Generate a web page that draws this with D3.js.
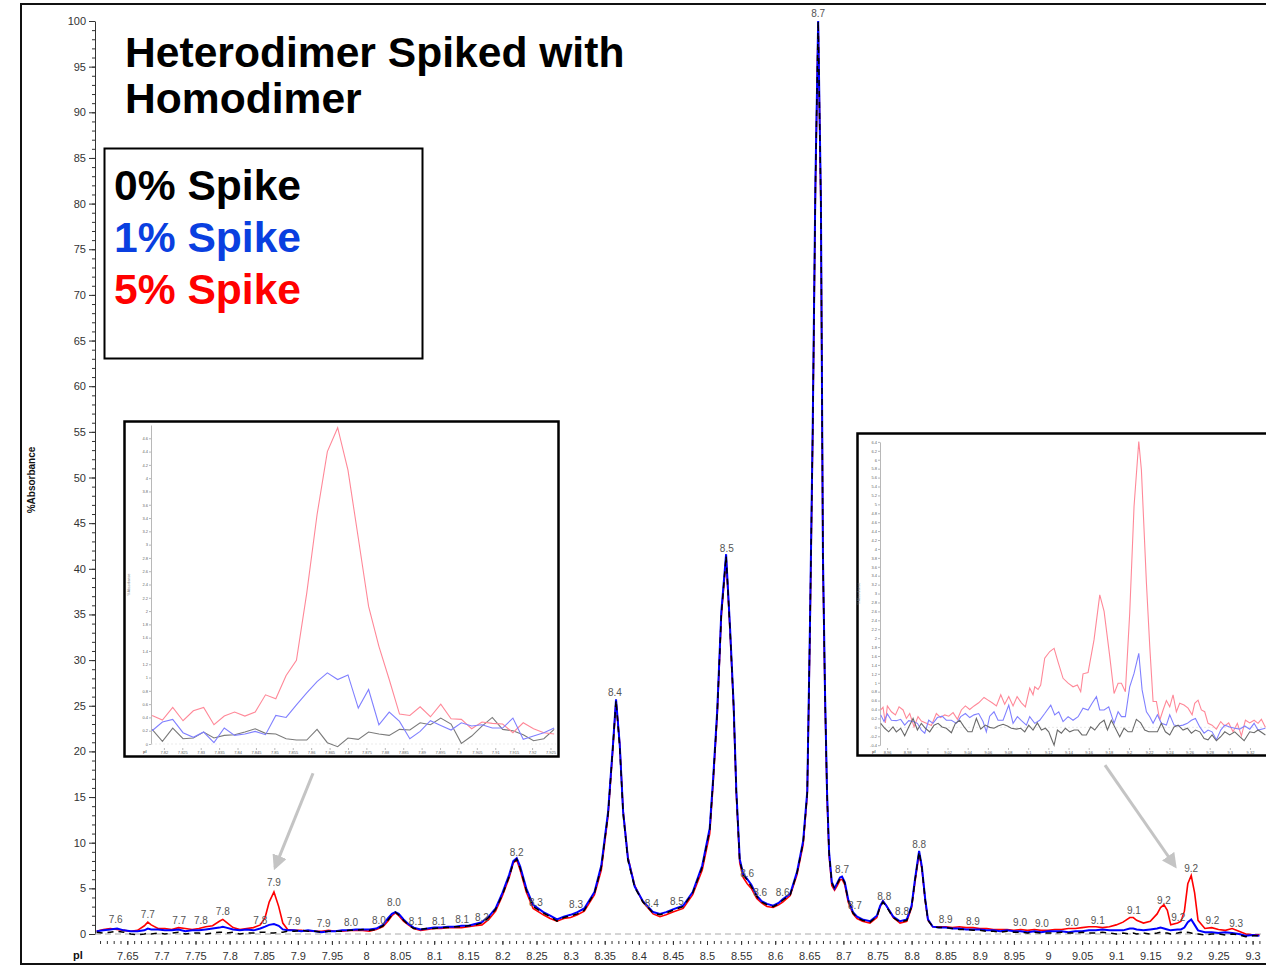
<!DOCTYPE html>
<html>
<head>
<meta charset="utf-8">
<script src="https://cdn.jsdelivr.net/npm/d3@7"></script>
<style>
  body { margin: 0; background: #fff; }
  svg { display: block; font-family: "Liberation Sans", Arial, sans-serif; }
</style>
</head>
<body>
<svg id="chart" width="1266" height="966"></svg>
<script>
// ---- main spectrum (ppm / %Absorbance) ----
const specX = [
  7.605, 7.615, 7.625, 7.635, 7.645, 7.655, 7.665, 7.675, 7.68, 7.685,
  7.695, 7.705, 7.715, 7.725, 7.735, 7.745, 7.755, 7.765, 7.775, 7.785,
  7.79, 7.795, 7.805, 7.815, 7.825, 7.835, 7.845, 7.852, 7.858, 7.865,
  7.872, 7.878, 7.885, 7.895, 7.905, 7.915, 7.925, 7.935, 7.945, 7.955,
  7.965, 7.975, 7.985, 7.995, 8.005, 8.015, 8.025, 8.032, 8.038, 8.043,
  8.048, 8.055, 8.062, 8.07, 8.08, 8.09, 8.10, 8.11, 8.12, 8.13,
  8.14, 8.15, 8.16, 8.17, 8.18, 8.19, 8.2, 8.21, 8.216, 8.221,
  8.226, 8.235, 8.245, 8.26, 8.27, 8.28, 8.29, 8.30, 8.31, 8.32,
  8.335, 8.345, 8.355, 8.362, 8.3666, 8.372, 8.377, 8.384, 8.394, 8.406,
  8.421, 8.431, 8.44, 8.45, 8.465, 8.479, 8.493, 8.504, 8.509, 8.515,
  8.521, 8.528, 8.534, 8.539, 8.543, 8.548, 8.553, 8.559, 8.565, 8.573,
  8.58, 8.588, 8.597, 8.605, 8.611, 8.622, 8.632, 8.641, 8.647, 8.651,
  8.655, 8.659, 8.663, 8.667, 8.670, 8.673, 8.676, 8.679, 8.683, 8.687,
  8.691, 8.695, 8.698, 8.702, 8.707, 8.714, 8.72, 8.728, 8.739, 8.749,
  8.754, 8.758, 8.763, 8.773, 8.783, 8.793, 8.8, 8.805, 8.811, 8.815,
  8.82, 8.824, 8.831, 8.84, 8.85, 8.86, 8.87, 8.88, 8.89, 8.9,
  8.91, 8.92, 8.93, 8.94, 8.95, 8.96, 8.97, 8.98, 8.99, 9.0,
  9.01, 9.02, 9.03, 9.04, 9.05, 9.06, 9.07, 9.08, 9.09, 9.1,
  9.11, 9.12, 9.125, 9.13, 9.14, 9.15, 9.16, 9.165, 9.17, 9.175,
  9.18, 9.19, 9.195, 9.2, 9.205, 9.21, 9.215, 9.22, 9.23, 9.24,
  9.25, 9.26, 9.27, 9.28, 9.29, 9.30, 9.31
]
const spike0 = [
  0.2, 0.1, 0.2, 0.3, 0.2, 0.0, -0.1, 0.0, 0.1, 0.0,
  0.1, 0.0, 0.1, 0.2, 0.0, 0.1, 0.1, 0.0, 0.1, 0.2,
  0.2, 0.1, 0.2, 0.0, 0.1, 0.1, 0.2, 0.2, 0.1, 0.1,
  0.2, 0.2, 0.3, 0.3, 0.4, 0.3, 0.3, 0.2, 0.3, 0.3,
  0.3, 0.4, 0.4, 0.5, 0.4, 0.5, 0.9, 1.5, 2.1, 2.4,
  2.1, 1.5, 1.0, 0.6, 0.5, 0.6, 0.6, 0.7, 0.7, 0.8,
  0.8, 0.9, 1.0, 1.2, 1.8, 2.7, 4.3, 6.3, 7.8, 8.2,
  7.2, 4.8, 3.0, 2.3, 1.9, 1.4, 1.8, 2.0, 2.2, 2.6,
  4.5, 7.3, 13.2, 20.5, 25.6, 20.5, 13.2, 8.1, 5.1, 3.5,
  2.3, 2.1, 2.3, 2.6, 3.0, 4.5, 7.3, 11.4, 16.9, 24.2,
  35.0, 41.4, 33.0, 25.0, 15.5, 8.0, 6.5, 5.9, 5.2, 4.1,
  3.5, 3.2, 3.0, 3.3, 3.7, 4.3, 6.7, 10.0, 15.4, 33.6,
  55.0, 82.0, 100.0, 80.0, 41.0, 26.4, 15.4, 8.9, 5.6, 5.0,
  5.5, 6.1, 6.2, 5.6, 3.7, 2.3, 1.8, 1.5, 1.3, 1.9,
  3.0, 3.5, 3.0, 1.8, 1.3, 1.5, 3.0, 5.9, 9.0, 7.3,
  3.7, 1.5, 0.8, 0.7, 0.7, 0.6, 0.5, 0.5, 0.4, 0.4,
  0.3, 0.3, 0.2, 0.3, 0.2, 0.2, 0.1, 0.2, 0.1, 0.1,
  0.1, 0.2, 0.1, 0.1, 0.2, 0.1, 0.1, 0.2, 0.1, 0.0,
  0.1, 0.0, 0.1, 0.0, 0.1, 0.0, 0.1, 0.2, 0.1, 0.1,
  0.0, 0.1, 0.2, 0.1, 0.2, 0.1, 0.0, 0.0, -0.1, 0.0,
  0.0, -0.1, 0.0, -0.1, -0.3, -0.2, -0.2
]
const spike1 = [
  0.3, 0.4, 0.5, 0.6, 0.4, 0.3, 0.3, 0.4, 0.6, 0.5,
  0.5, 0.4, 0.4, 0.5, 0.3, 0.4, 0.4, 0.5, 0.6, 0.7,
  0.8, 0.7, 0.5, 0.4, 0.5, 0.4, 0.6, 0.8, 1.0, 1.1,
  0.9, 0.5, 0.4, 0.4, 0.3, 0.4, 0.3, 0.2, 0.3, 0.3,
  0.4, 0.4, 0.5, 0.5, 0.5, 0.6, 1.0, 1.7, 2.2, 2.4,
  2.2, 1.6, 1.1, 0.7, 0.5, 0.6, 0.7, 0.7, 0.8, 0.8,
  0.9, 0.9, 1.1, 1.3, 1.9, 2.8, 4.5, 6.5, 8.0, 8.3,
  7.4, 5.0, 3.2, 2.4, 2.0, 1.6, 1.9, 2.1, 2.4, 2.8,
  4.6, 7.5, 13.4, 20.6, 25.7, 20.8, 13.4, 8.3, 5.2, 3.6,
  2.4, 2.2, 2.4, 2.7, 3.1, 4.6, 7.5, 11.6, 17.0, 24.5,
  35.3, 41.6, 33.2, 25.2, 15.7, 8.2, 6.6, 6.0, 5.4, 4.2,
  3.6, 3.3, 3.1, 3.4, 3.8, 4.4, 6.8, 10.2, 15.6, 34.0,
  55.5, 82.5, 100.0, 80.5, 41.5, 26.6, 15.6, 9.0, 5.7, 5.0,
  5.6, 6.2, 6.3, 5.7, 3.8, 2.4, 1.9, 1.6, 1.4, 2.0,
  3.1, 3.6, 3.1, 1.9, 1.4, 1.6, 3.1, 6.0, 9.1, 7.4,
  3.8, 1.6, 0.8, 0.7, 0.7, 0.6, 0.6, 0.5, 0.5, 0.5,
  0.4, 0.4, 0.3, 0.4, 0.3, 0.3, 0.2, 0.3, 0.2, 0.3,
  0.3, 0.3, 0.2, 0.3, 0.3, 0.4, 0.4, 0.5, 0.4, 0.4,
  0.4, 0.6, 0.6, 0.5, 0.4, 0.5, 0.6, 0.7, 0.6, 0.5,
  0.4, 0.5, 0.5, 0.7, 1.3, 1.6, 1.0, 0.4, 0.2, 0.2,
  0.1, 0.2, 0.1, 0.0, -0.2, -0.1, -0.2
]
const spike5 = [
  0.3, 0.5, 0.6, 0.5, 0.4, 0.3, 0.4, 0.9, 1.3, 1.0,
  0.6, 0.6, 0.5, 0.7, 0.6, 0.5, 0.6, 0.8, 0.9, 1.4,
  1.6, 1.3, 0.7, 0.5, 0.6, 0.7, 1.0, 1.8, 3.5, 4.6,
  3.0, 1.2, 0.5, 0.4, 0.4, 0.3, 0.3, 0.3, 0.4, 0.3,
  0.3, 0.4, 0.4, 0.4, 0.3, 0.5, 0.8, 1.4, 2.0, 2.3,
  2.0, 1.4, 1.0, 0.6, 0.4, 0.5, 0.6, 0.6, 0.7, 0.7,
  0.7, 0.8, 0.9, 1.0, 1.6, 2.5, 4.2, 6.2, 7.8, 8.1,
  7.0, 4.6, 2.8, 2.1, 1.7, 1.4, 1.7, 1.8, 2.1, 2.5,
  4.3, 7.0, 13.0, 20.3, 25.5, 20.8, 13.5, 8.4, 5.3, 3.5,
  2.2, 1.9, 2.1, 2.4, 2.8, 4.3, 7.0, 11.0, 16.5, 24.0,
  34.8, 41.2, 32.8, 24.8, 15.3, 7.8, 6.2, 5.5, 5.0, 3.9,
  3.4, 3.0, 2.9, 3.2, 3.5, 4.2, 6.5, 9.8, 15.2, 33.0,
  54.5, 81.5, 99.8, 79.5, 40.5, 26.0, 15.0, 8.6, 5.3, 4.8,
  5.3, 5.9, 6.0, 5.4, 3.5, 2.2, 1.7, 1.4, 1.2, 1.8,
  3.0, 3.6, 3.1, 1.8, 1.2, 1.4, 2.9, 5.7, 8.8, 7.2,
  3.6, 1.5, 0.8, 0.8, 0.8, 0.7, 0.8, 0.7, 0.7, 0.6,
  0.6, 0.5, 0.5, 0.5, 0.4, 0.5, 0.4, 0.5, 0.4, 0.4,
  0.5, 0.5, 0.6, 0.6, 0.7, 0.8, 0.8, 0.7, 0.8, 1.0,
  1.3, 1.8, 1.8, 1.5, 1.2, 1.4, 2.2, 2.9, 3.2, 2.6,
  1.0, 1.2, 1.4, 2.5, 5.5, 6.4, 4.5, 1.5, 0.6, 0.7,
  0.5, 0.4, 0.6, 0.3, 0.0, -0.1, -0.1
]

// peak annotations: ppm, label centre height, text
const peakX = [7.633, 7.680, 7.726, 7.758, 7.790, 7.845, 7.865, 7.894, 7.938, 7.978, 8.019, 8.041, 8.073, 8.107, 8.141,
  8.170, 8.221, 8.249, 8.308, 8.365, 8.419, 8.456, 8.529, 8.559, 8.578, 8.611, 8.663, 8.698, 8.717, 8.760, 8.786,
  8.811, 8.850, 8.890, 8.959, 8.991, 9.035, 9.073, 9.126, 9.170, 9.191, 9.210, 9.241, 9.276]
const peakY = [1.64, 2.19, 1.53, 1.53, 2.41, 1.53, 5.59, 1.42, 1.2, 1.31, 1.53, 3.5, 1.42, 1.42, 1.64,
  1.86, 8.98, 3.5, 3.18, 26.5, 3.29, 3.61, 42.17, 6.68, 4.6, 4.6, 100.77, 7.01, 3.07, 4.16, 2.41,
  9.75, 1.64, 1.42, 1.31, 1.1, 1.31, 1.53, 2.52, 3.72, 1.86, 7.12, 1.53, 1.2]
const peakText = ['7.6', '7.7', '7.7', '7.8', '7.8', '7.8', '7.9', '7.9', '7.9', '8.0', '8.0', '8.0', '8.1', '8.1', '8.1',
  '8.2', '8.2', '8.3', '8.3', '8.4', '8.4', '8.5', '8.5', '8.6', '8.6', '8.6', '8.7', '8.7', '8.7', '8.8', '8.8',
  '8.8', '8.9', '8.9', '9.0', '9.0', '9.0', '9.1', '9.1', '9.2', '9.2', '9.2', '9.2', '9.3']

const xTickLabels = ['7.65', '7.7', '7.75', '7.8', '7.85', '7.9', '7.95', '8', '8.05', '8.1', '8.15', '8.2', '8.25',
  '8.3', '8.35', '8.4', '8.45', '8.5', '8.55', '8.6', '8.65', '8.7', '8.75', '8.8', '8.85', '8.9', '8.95', '9',
  '9.05', '9.1', '9.15', '9.2', '9.25', '9.3']
const yTickLabels = ['0', '5', '10', '15', '20', '25', '30', '35', '40', '45', '50', '55', '60', '65', '70', '75',
  '80', '85', '90', '95', '100']

// arrows from insets to peaks: [ppm0, abs0, ppm1, abs1]
const arrows = [[7.9223, 17.6, 7.8666, 7.3], [9.0836, 18.5, 9.1862, 7.45]]

// ---- left inset (around 7.87 ppm) ----
const insetLX = [7.8168, 7.8196, 7.8224, 7.8252, 7.8280, 7.8308, 7.8336, 7.8364, 7.8392, 7.8420,
  7.8448, 7.8476, 7.8504, 7.8532, 7.8560, 7.8588, 7.8616, 7.8644, 7.8672, 7.8700,
  7.8728, 7.8756, 7.8784, 7.8812, 7.8840, 7.8868, 7.8896, 7.8924, 7.8952, 7.8980,
  7.9008, 7.9036, 7.9064, 7.9092, 7.9120, 7.9148, 7.9176, 7.9204, 7.9232, 7.9260]
const insetL5 = [0.43, 0.36, 0.55, 0.35, 0.50, 0.55, 0.29, 0.42, 0.48, 0.42, 0.48, 0.74, 0.68, 1.03, 1.26,
  2.27, 3.45, 4.40, 4.76, 4.12, 3.10, 2.07, 1.47, 0.97, 0.45, 0.43, 0.56, 0.41, 0.60, 0.38,
  0.37, 0.23, 0.33, 0.31, 0.30, 0.17, 0.32, 0.23, 0.17, 0.15]
const insetL1 = [0.20, 0.33, 0.37, 0.17, 0.10, 0.18, 0.02, 0.24, 0.13, 0.15, 0.19, 0.14, 0.43, 0.40, 0.59,
  0.77, 0.94, 1.07, 0.97, 1.04, 0.54, 0.82, 0.29, 0.48, 0.34, 0.08, 0.19, 0.35, 0.28, 0.21,
  0.32, 0.27, 0.29, 0.24, 0.24, 0.39, 0.07, 0.12, 0.17, 0.24]
const insetL0 = [0.22, 0.04, 0.24, 0.08, 0.09, 0.18, 0.09, 0.13, 0.14, 0.18, 0.23, 0.16, 0.15, 0.08, 0.06,
  0.06, 0.22, 0.02, -0.04, 0.09, 0.07, 0.18, 0.15, 0.13, 0.22, 0.21, 0.32, 0.29, 0.39, 0.30,
  0.01, 0.12, 0.27, 0.40, 0.22, 0.20, 0.14, 0.05, 0.08, 0.22]
const insetLXTicks = ['7.82', '7.825', '7.83', '7.835', '7.84', '7.845', '7.85', '7.855', '7.86', '7.865', '7.87',
  '7.875', '7.88', '7.885', '7.89', '7.895', '7.9', '7.905', '7.91', '7.915', '7.92', '7.925']
const insetLYTicks = ['0', '0.2', '0.4', '0.6', '0.8', '1', '1.2', '1.4', '1.6', '1.8', '2', '2.2', '2.4', '2.6',
  '2.8', '3', '3.2', '3.4', '3.6', '3.8', '4', '4.2', '4.4', '4.6']

// ---- right inset (9.0 - 9.33 ppm), [ppm, abs] ----
const insetR5 = [[8.9537, 0.39], [8.9560, 0.45], [8.9583, 0.10], [8.9603, 0.48], [8.9643, 0.35], [8.9683, 0.28],
  [8.9719, 0.46], [8.9759, 0.39], [8.9792, 0.20], [8.9825, 0.31], [8.9868, 0.01], [8.9907, 0.24], [8.9940, 0.14],
  [8.9990, 0.09], [9.0040, 0.04], [9.0089, 0.31], [9.0132, 0.22], [9.0172, 0.28], [9.0212, 0.25], [9.0255, 0.33],
  [9.0298, 0.18], [9.0337, 0.39], [9.0377, 0.48], [9.0420, 0.40], [9.0463, 0.48], [9.0509, 0.55], [9.0562, 0.67],
  [9.0602, 0.61], [9.0642, 0.55], [9.0685, 0.48], [9.0728, 0.73], [9.0767, 0.52], [9.0807, 0.69], [9.0850, 0.48],
  [9.0890, 0.69], [9.0933, 0.55], [9.0972, 0.46], [9.1015, 0.88], [9.1048, 0.73], [9.1065, 0.91], [9.1098, 0.85],
  [9.1124, 0.95], [9.1164, 1.55], [9.1214, 1.70], [9.1257, 1.77], [9.1296, 1.47], [9.1346, 1.10], [9.1396, 0.99],
  [9.1445, 0.91], [9.1488, 0.95], [9.1521, 0.80], [9.1544, 1.20], [9.1594, 1.23], [9.1653, 1.96], [9.1710, 2.97],
  [9.1753, 2.60], [9.1809, 1.59], [9.1852, 0.76], [9.1892, 0.99], [9.1925, 0.99], [9.1964, 0.80], [9.2007, 2.56],
  [9.2050, 4.95], [9.2097, 6.41], [9.2123, 5.77], [9.2173, 3.23], [9.2206, 1.81], [9.2239, 0.58], [9.2272, 0.58],
  [9.2305, 0.16], [9.2338, 0.39], [9.2371, 0.60], [9.2404, 0.46], [9.2437, 0.73], [9.2470, 0.35], [9.2503, 0.54],
  [9.2546, 0.50], [9.2586, 0.43], [9.2626, 0.28], [9.2652, 0.54], [9.2685, 0.61], [9.2718, 0.39], [9.2751, 0.35],
  [9.2784, 0.09], [9.2824, 0.05], [9.2867, -0.04], [9.2910, 0.13], [9.2950, 0.03], [9.2989, 0.10], [9.3032, -0.10],
  [9.3075, 0.09], [9.3115, -0.19], [9.3155, 0.16], [9.3198, 0.10], [9.3241, 0.16], [9.3280, 0.09], [9.3313, 0.18],
  [9.3353, 0.00]]
const insetR1 = [[8.9537, 0.28], [8.9570, 0.13], [8.9603, 0.30], [8.9643, 0.16], [8.9692, 0.15], [8.9735, 0.18],
  [8.9775, 0.05], [8.9815, 0.15], [8.9858, 0.13], [8.9901, 0.09], [8.9940, -0.06], [8.9974, -0.13], [9.0013, 0.16],
  [9.0056, 0.09], [9.0099, 0.22], [9.0146, 0.25], [9.0188, 0.16], [9.0238, 0.16], [9.0288, 0.09], [9.0331, 0.24],
  [9.0377, 0.31], [9.0420, 0.22], [9.0463, 0.28], [9.0509, 0.31], [9.0552, 0.13], [9.0585, -0.10], [9.0618, 0.25],
  [9.0661, 0.35], [9.0701, 0.16], [9.0751, 0.16], [9.0807, 0.50], [9.0850, 0.09], [9.0893, 0.24], [9.0933, 0.15],
  [9.0982, 0.05], [9.1015, 0.24], [9.1065, 0.09], [9.1114, 0.16], [9.1164, 0.31], [9.1224, 0.50], [9.1263, 0.28],
  [9.1303, 0.35], [9.1346, 0.13], [9.1396, 0.24], [9.1445, 0.16], [9.1495, 0.24], [9.1544, 0.43], [9.1594, 0.39],
  [9.1634, 0.54], [9.1677, 0.69], [9.1710, 0.39], [9.1753, 0.39], [9.1799, 0.46], [9.1852, 0.09], [9.1892, 0.35],
  [9.1925, 0.24], [9.1964, 0.24], [9.2007, 0.91], [9.2050, 1.21], [9.2097, 1.66], [9.2130, 0.84], [9.2173, 0.35],
  [9.2206, 0.24], [9.2239, 0.09], [9.2282, 0.28], [9.2321, 0.09], [9.2371, 0.05], [9.2404, 0.28], [9.2447, 0.05],
  [9.2487, 0.03], [9.2536, 0.05], [9.2579, 0.09], [9.2619, 0.16], [9.2659, 0.20], [9.2702, 0.01], [9.2745, -0.13],
  [9.2784, -0.06], [9.2824, -0.10], [9.2867, -0.28], [9.2910, -0.06], [9.2950, 0.05], [9.2999, 0.01], [9.3049, -0.02],
  [9.3099, -0.04], [9.3148, 0.03], [9.3198, -0.04], [9.3241, 0.09], [9.3280, -0.06], [9.3353, -0.02]]
const insetR0 = [[8.9537, 0.09], [8.9577, -0.02], [8.9616, -0.10], [8.9659, 0.01], [8.9692, -0.10], [8.9735, -0.02],
  [8.9775, -0.19], [8.9815, 0.01], [8.9858, 0.20], [8.9901, -0.06], [8.9940, 0.09], [8.9980, -0.02], [9.0023, -0.10],
  [9.0066, 0.05], [9.0106, 0.09], [9.0146, 0.01], [9.0188, -0.02], [9.0238, -0.12], [9.0278, 0.09], [9.0321, 0.16],
  [9.0364, 0.01], [9.0403, -0.10], [9.0443, -0.10], [9.0486, 0.20], [9.0529, -0.04], [9.0575, 0.05], [9.0618, 0.00],
  [9.0661, -0.02], [9.0701, 0.03], [9.0751, 0.07], [9.0794, 0.03], [9.0833, -0.02], [9.0883, -0.04], [9.0926, -0.02],
  [9.0966, -0.10], [9.1005, 0.05], [9.1048, -0.06], [9.1091, 0.10], [9.1131, -0.06], [9.1171, -0.02], [9.1204, -0.10],
  [9.1230, -0.25], [9.1257, -0.40], [9.1290, -0.06], [9.1329, -0.13], [9.1369, -0.02], [9.1412, -0.10], [9.1455, -0.06],
  [9.1495, -0.06], [9.1534, -0.17], [9.1577, -0.17], [9.1620, 0.01], [9.1660, -0.06], [9.1710, 0.09], [9.1753, 0.16],
  [9.1786, -0.06], [9.1825, 0.16], [9.1865, -0.02], [9.1908, -0.21], [9.1951, -0.02], [9.1991, -0.10], [9.2030, -0.10],
  [9.2073, 0.18], [9.2116, 0.10], [9.2156, -0.06], [9.2196, -0.10], [9.2239, -0.10], [9.2282, -0.10], [9.2321, 0.09],
  [9.2361, -0.10], [9.2404, -0.17], [9.2447, 0.01], [9.2487, 0.05], [9.2536, -0.06], [9.2579, -0.02], [9.2619, -0.13],
  [9.2659, -0.06], [9.2702, -0.10], [9.2745, -0.25], [9.2784, -0.28], [9.2824, -0.17], [9.2867, -0.30], [9.2910, -0.21],
  [9.2950, -0.10], [9.2999, -0.17], [9.3049, -0.10], [9.3099, -0.21], [9.3142, -0.30], [9.3198, -0.10], [9.3241, -0.12],
  [9.3280, -0.06], [9.3353, -0.17]]
const insetRXTicks = ['8.96', '8.98', '9', '9.02', '9.04', '9.06', '9.08', '9.1', '9.12', '9.14', '9.16', '9.18',
  '9.2', '9.22', '9.24', '9.26', '9.28', '9.3', '9.32']
const insetRYTicks = ['-0.4', '-0.2', '0', '0.2', '0.4', '0.6', '0.8', '1', '1.2', '1.4', '1.6', '1.8', '2', '2.2',
  '2.4', '2.6', '2.8', '3', '3.2', '3.4', '3.6', '3.8', '4', '4.2', '4.4', '4.6', '4.8', '5', '5.2', '5.4', '5.6',
  '5.8', '6', '6.2', '6.4']

const legendItems = [['0% Spike', '#000000'], ['1% Spike', '#0a3fe0'], ['5% Spike', '#ff0000']]

// ================= drawing =================
const svg = d3.select('#chart')
const TXT = '#333'

// outer frame
svg.append('rect')
    .attr('x', 21).attr('y', 4).attr('width', 1270).attr('height', 960)
    .attr('fill', 'none').attr('stroke', '#111').attr('stroke-width', 2)

const x = d3.scaleLinear().domain([7.6026, 9.3138]).range([95, 1262])
const y = d3.scaleLinear().domain([0, 100]).range([934, 21])

// y axis
const yAxis = svg.append('g').attr('transform', 'translate(95,0)')
    .call(d3.axisLeft(y).tickValues(yTickLabels.map(Number)).tickSize(6).tickSizeOuter(0).tickPadding(3))
yAxis.selectAll('text').attr('font-size', 11).attr('fill', TXT)
yAxis.selectAll('line, path').attr('stroke', TXT)
svg.append('g').attr('transform', 'translate(95,0)')
    .call(d3.axisLeft(y).tickValues(d3.range(0, 101)).tickSize(3).tickFormat(''))
    .call(g => g.select('.domain').remove())
    .selectAll('line').attr('stroke', TXT)

svg.append('text')
    .attr('transform', 'translate(35,480) rotate(-90)')
    .attr('text-anchor', 'middle')
    .attr('font-size', 10).attr('font-weight', 'bold').attr('fill', '#111')
    .text('%Absorbance')

// x axis
const xAxis = svg.append('g').attr('transform', 'translate(0,941)')
    .call(d3.axisBottom(x).tickValues(xTickLabels.map(Number)).tickSize(4).tickPadding(7)
        .tickFormat((d, i) => xTickLabels[i]))
xAxis.select('.domain').remove()
xAxis.selectAll('text').attr('font-size', 11).attr('fill', TXT)
xAxis.selectAll('line').attr('stroke', TXT)
svg.append('g').attr('transform', 'translate(0,941)')
    .call(d3.axisBottom(x).tickValues(d3.range(761, 932).map(v => v / 100)).tickSize(3).tickFormat(''))
    .call(g => g.select('.domain').remove())
    .selectAll('line').attr('stroke', TXT)
svg.append('text')
    .attr('x', 78).attr('y', 959).attr('text-anchor', 'middle')
    .attr('font-size', 11).attr('font-weight', 'bold').attr('fill', '#111')
    .text('pl')

// zero baseline
svg.append('line')
    .attr('x1', x.range()[0]).attr('x2', x.range()[1])
    .attr('y1', y(0)).attr('y2', y(0))
    .attr('stroke', '#aaa').attr('stroke-dasharray', '6,4')

// spectra
svg.append('clipPath').attr('id', 'plotClip')
    .append('rect').attr('x', 95).attr('y', 0).attr('width', 1171).attr('height', 940)
const plot = svg.append('g').attr('clip-path', 'url(#plotClip)')
const specLine = d3.line().x((d, i) => x(specX[i])).y(d => y(d))
plot.append('path').datum(spike5).attr('d', specLine)
    .attr('fill', 'none').attr('stroke', '#ff0000').attr('stroke-width', 1.6)
plot.append('path').datum(spike1).attr('d', specLine)
    .attr('fill', 'none').attr('stroke', '#0000ff').attr('stroke-width', 2)
plot.append('path').datum(spike0).attr('d', specLine)
    .attr('fill', 'none').attr('stroke', '#000').attr('stroke-width', 1.5).attr('stroke-dasharray', '6,5')

// peak labels
svg.append('g').selectAll('text').data(peakText).join('text')
    .attr('x', (d, i) => x(peakX[i]))
    .attr('y', (d, i) => y(peakY[i]))
    .attr('dy', '0.35em')
    .attr('text-anchor', 'middle')
    .attr('font-size', 10).attr('fill', '#555')
    .text(d => d)

// title
const title = svg.append('text').attr('x', 125).attr('y', 67)
    .attr('font-size', 42.6).attr('font-weight', 'bold').attr('fill', '#000')
title.append('tspan').attr('x', 125).text('Heterodimer Spiked with')
title.append('tspan').attr('x', 125).attr('dy', 46).text('Homodimer')

// legend box
svg.append('rect')
    .attr('x', 104.5).attr('y', 148.5).attr('width', 318).attr('height', 210)
    .attr('fill', '#fff').attr('stroke', '#000').attr('stroke-width', 2)
svg.append('g').selectAll('text').data(legendItems).join('text')
    .attr('x', 114).attr('y', (d, i) => 200 + i * 52)
    .attr('font-size', 42.6).attr('font-weight', 'bold')
    .attr('fill', d => d[1])
    .text(d => d[0])

// arrows
svg.append('defs').append('marker')
    .attr('id', 'arrowHead').attr('viewBox', '0 0 10 10')
    .attr('refX', 8).attr('refY', 5).attr('markerWidth', 5).attr('markerHeight', 5)
    .attr('orient', 'auto')
    .append('path').attr('d', 'M0,0 L10,5 L0,10 z').attr('fill', '#c4c4c4')
svg.append('g').selectAll('line').data(arrows).join('line')
    .attr('x1', d => x(d[0])).attr('y1', d => y(d[1]))
    .attr('x2', d => x(d[2])).attr('y2', d => y(d[3]))
    .attr('stroke', '#c4c4c4').attr('stroke-width', 3)
    .attr('marker-end', 'url(#arrowHead)')

// insets
function drawInset (cfg) {
    const g = svg.append('g')
    g.append('rect')
        .attr('x', cfg.box[0]).attr('y', cfg.box[1]).attr('width', cfg.box[2]).attr('height', cfg.box[3])
        .attr('fill', '#fff').attr('stroke', '#000').attr('stroke-width', 2.5)
    const ix = d3.scaleLinear().domain(cfg.xDomain).range(cfg.xRange)
    const iy = d3.scaleLinear().domain(cfg.yDomain).range(cfg.yRange)

    const ya = g.append('g').attr('transform', `translate(${cfg.xRange[0]},0)`)
        .call(d3.axisLeft(iy).tickValues(cfg.yTicks.map(Number)).tickSize(2).tickSizeOuter(0).tickPadding(1)
            .tickFormat((d, i) => cfg.yTicks[i]))
    ya.selectAll('text').attr('font-size', 4).attr('fill', '#666')
    ya.selectAll('line, path').attr('stroke', '#888').attr('stroke-width', 0.6)

    const xa = g.append('g').attr('transform', `translate(0,${cfg.axisY})`)
        .call(d3.axisBottom(ix).tickValues(cfg.xTicks.map(Number)).tickSize(2).tickPadding(1)
            .tickFormat((d, i) => cfg.xTicks[i]))
    xa.select('.domain').remove()
    xa.selectAll('text').attr('font-size', 4).attr('fill', '#666')
    xa.selectAll('line').attr('stroke', '#888').attr('stroke-width', 0.6)

    g.append('text').attr('x', cfg.xRange[0] - 8).attr('y', cfg.axisY + 5)
        .attr('font-size', 4).attr('font-weight', 'bold').attr('fill', '#666').text('pl')
    g.append('text')
        .attr('transform', `translate(${cfg.labelX},${(cfg.yRange[0] + cfg.yRange[1]) / 2}) rotate(-90)`)
        .attr('text-anchor', 'middle').attr('font-size', 3.5).attr('fill', '#777').text('%Absorbance')

    g.append('line')
        .attr('x1', cfg.xRange[0]).attr('x2', cfg.xRange[1])
        .attr('y1', iy(0)).attr('y2', iy(0))
        .attr('stroke', '#ddd').attr('stroke-width', 0.6).attr('stroke-dasharray', '2,2')

    const clipId = cfg.id + 'Clip'
    g.append('clipPath').attr('id', clipId).append('rect')
        .attr('x', cfg.xRange[0]).attr('y', cfg.box[1] + 2)
        .attr('width', cfg.xRange[1] - cfg.xRange[0]).attr('height', cfg.box[3] - 4)
    const lg = g.append('g').attr('clip-path', `url(#${clipId})`)
    const ln = d3.line().x(d => ix(d[0])).y(d => iy(d[1]))
    cfg.series.forEach(s => {
        lg.append('path').datum(s.points).attr('d', ln)
            .attr('fill', 'none').attr('stroke', s.color).attr('stroke-width', 1.1)
    })
}

drawInset({
    id: 'insetL',
    box: [124.5, 421.5, 434, 335],
    xDomain: [7.8165, 7.9265], xRange: [151, 556],
    yDomain: [0, 4.8], yRange: [744, 425],
    axisY: 748, labelX: 130,
    xTicks: insetLXTicks, yTicks: insetLYTicks,
    series: [
        { color: '#7a7a7a', points: insetLX.map((v, i) => [v, insetL0[i]]) },
        { color: '#ff8898', points: insetLX.map((v, i) => [v, insetL5[i]]) },
        { color: '#8080ff', points: insetLX.map((v, i) => [v, insetL1[i]]) }
    ]
})

drawInset({
    id: 'insetR',
    box: [857.5, 433.5, 420, 322],
    xDomain: [8.953, 9.3364], xRange: [880, 1266.5],
    yDomain: [-0.4, 6.4], yRange: [745.2, 441.9],
    axisY: 748, labelX: 860,
    xTicks: insetRXTicks, yTicks: insetRYTicks,
    series: [
        { color: '#ff8898', points: insetR5 },
        { color: '#8080ff', points: insetR1 },
        { color: '#6a6a6a', points: insetR0 }
    ]
})
</script>
</body>
</html>
